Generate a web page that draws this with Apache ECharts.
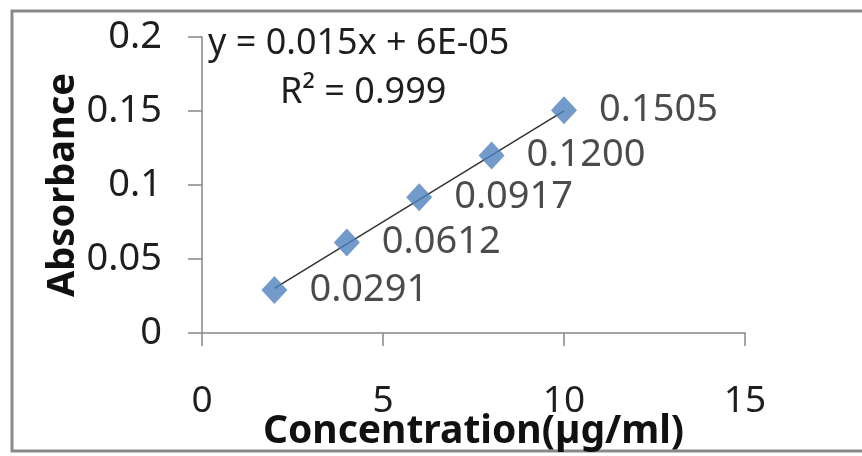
<!DOCTYPE html>
<html>
<head>
<meta charset="utf-8">
<script src="https://cdn.jsdelivr.net/npm/echarts@6/dist/echarts.min.js"></script>
<style>
  html, body { margin: 0; padding: 0; background: #fff; }
  #chart { width: 862px; height: 456px; }
</style>
</head>
<body>
<div id="chart"></div>
<script>
// 标准曲线数据
const concentration = [2, 4, 6, 8, 10];
const absorbance = [0.0291, 0.0612, 0.0917, 0.1200, 0.1505];
const pointLabels = ['0.0291', '0.0612', '0.0917', '0.1200', '0.1505'];
// 趋势线两端
const trendX = [2, 10];
const trendY = [0.0301, 0.1501];
const equationText = 'y = 0.015x + 6E-05';
const r2Text = 'R\u00b2 = 0.999';

const font = '"Noto Sans", "DejaVu Sans", sans-serif';
const chart = echarts.init(document.getElementById('chart'));

chart.setOption({
    backgroundColor: '#fff',
    animation: false,
    grid: { left: 202, right: 117, top: 37, bottom: 123, outerBoundsMode: 'none' },
    xAxis: {
        type: 'value',
        min: 0,
        max: 15,
        interval: 5,
        name: 'Concentration(\u00b5g/ml)',
        nameLocation: 'middle',
        nameGap: 79,
        nameMoveOverlap: false,
        nameTextStyle: { fontFamily: font, fontSize: 39, fontWeight: 'bold', color: '#111' },
        axisLine: { lineStyle: { color: '#868686', width: 1.5 } },
        axisTick: { show: true, length: 13, lineStyle: { color: '#868686', width: 1.5 } },
        axisLabel: { margin: 50, fontFamily: font, fontSize: 37, color: '#1e1e1e' },
        splitLine: { show: false }
    },
    yAxis: {
        type: 'value',
        min: 0,
        max: 0.2,
        interval: 0.05,
        name: 'Absorbance',
        nameLocation: 'middle',
        nameGap: 120,
        nameMoveOverlap: false,
        nameTextStyle: { fontFamily: font, fontSize: 38, fontWeight: 'bold', color: '#111' },
        axisLine: { show: true, lineStyle: { color: '#868686', width: 1.5 } },
        axisTick: { show: true, length: 14, lineStyle: { color: '#868686', width: 1.5 } },
        axisLabel: { margin: 40, fontFamily: font, fontSize: 38, color: '#1e1e1e' },
        splitLine: { show: false }
    },
    graphic: [
        {
            type: 'rect',
            shape: { x: 12, y: 11, width: 900, height: 440 },
            style: { fill: 'none', stroke: '#8a8a8a', lineWidth: 3 },
            silent: true
        },
        {
            type: 'text',
            left: 208,
            top: 26,
            style: { text: equationText, fontFamily: font, fontSize: 36, fill: '#1e1e1e' }
        },
        {
            type: 'text',
            left: 280,
            top: 75,
            style: { text: r2Text, fontFamily: font, fontSize: 36, fill: '#1e1e1e' }
        }
    ],
    series: [
        {
            name: 'trend',
            type: 'line',
            data: trendX.map((x, i) => [x, trendY[i]]),
            symbol: 'none',
            lineStyle: { color: '#333', width: 1.5 },
            z: 2
        },
        {
            name: 'Absorbance',
            type: 'scatter',
            data: concentration.map((x, i) => [x, absorbance[i]]),
            symbol: 'diamond',
            symbolSize: [26, 28],
            itemStyle: { color: '#4f81bd' },
            label: {
                show: true,
                position: 'right',
                distance: 22,
                formatter: p => pointLabels[p.dataIndex],
                fontFamily: font,
                fontSize: 38,
                color: '#1e1e1e'
            },
            z: 3
        }
    ]
});
</script>
</body>
</html>
